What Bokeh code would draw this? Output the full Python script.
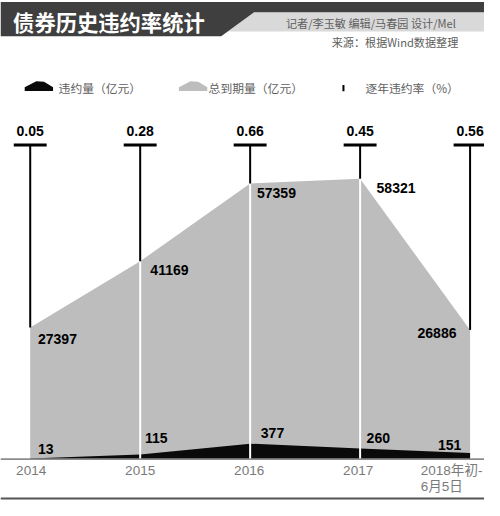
from bokeh.plotting import figure
from bokeh.models import Range1d, ColumnDataSource
from bokeh.embed import file_html
from bokeh.resources import INLINE
from bokeh.core.properties import value

# ---------------- data ----------------
years = ["2014", "2015", "2016", "2017", "2018年初-\n6月5日"]
total_due = [27397, 41169, 57359, 58321, 26886]      # 总到期量（亿元）
default_amt = [13, 115, 377, 260, 151]               # 违约量（亿元）
default_rate = [0.05, 0.28, 0.66, 0.45, 0.56]        # 逐年违约率（%）

title_text = "债券历史违约率统计"
credit_text = "记者/李玉敏  编辑/马春园 设计/Mel"
source_text = "来源：根据Wind数据整理"
legend_labels = ["违约量（亿元）", "总到期量（亿元）", "逐年违约率（%）"]

# ---------------- layout ----------------
# layout is designed on a 500x516 sheet and scaled to the 484x500 canvas
W, H = 484, 500
SX, SY = W / 500, H / 516
X0, STEP = 30.7 * SX, 113.6 * SX     # pixel x of first category, spacing
BASE = 473.3 * SY                    # pixel y of the zero line
K_TOTAL = 0.00496 * SY               # px per 亿元 (total due)
K_DEF = 0.0424 * SY                  # px per 亿元 (defaults, magnified)

NUM_FONT = value("Liberation Sans, Arial, sans-serif")
CJK_FONT = value("Noto Sans CJK SC")
TICK_FONT = value("Liberation Sans, Noto Sans CJK SC, sans-serif")


def fs(px):
    return f"{px * SX:.2f}px"


def ux(rx):
    return (rx * SX - X0) / STEP


def uy(ry):
    return (BASE - ry * SY) / K_TOTAL


n = len(years)
idx = list(range(n))

p = figure(width=W, height=H,
           x_range=Range1d(ux(0), ux(500)), y_range=Range1d(uy(516), uy(0)),
           x_axis_type=None, y_axis_type=None,
           min_border=0, toolbar_location=None, output_backend="svg")
p.extra_y_ranges = {"def": Range1d((BASE - H) / K_DEF, BASE / K_DEF)}
p.outline_line_color = None
p.background_fill_color = "white"
p.border_fill_color = "white"

# ---------------- header ----------------
dark = [(0, 1.5), (500, 1.5), (500, 12), (262, 12), (228, 37), (0, 37)]
light = [(262, 12), (500, 12), (500, 32), (234.8, 32)]
p.patch([ux(a) for a, b in light], [uy(b) for a, b in light],
        fill_color="#d9d9d9", line_color=None)
p.patch([ux(a) for a, b in dark], [uy(b) for a, b in dark],
        fill_color="#3f3f3f", line_color=None)

p.text(x=[ux(13)], y=[uy(21.7)], text=[title_text], text_font=CJK_FONT,
       text_font_size=fs(22), text_font_style="bold", text_color="white",
       text_align="left", text_baseline="middle")
p.text(x=[ux(473), ux(473)], y=[uy(23), uy(43)], text=[credit_text, source_text],
       text_font=CJK_FONT, text_font_size=fs(11.5), text_color="#606060",
       text_align="right", text_baseline="middle")

# ---------------- legend ----------------
icon = [(25, 93.3), (25, 89.5), (37, 83.3), (45, 83.8), (54.3, 89.5), (54.3, 93.3)]
p.patch([ux(a) for a, b in icon], [uy(b) for a, b in icon],
        fill_color="#0a0a0a", line_color=None)
p.patch([ux(a + 159.3) for a, b in icon], [uy(b) for a, b in icon],
        fill_color="#bdbdbd", line_color=None)
p.segment(x0=[ux(354.3)], y0=[uy(87.3)], x1=[ux(354.3)], y1=[uy(93.7)],
          line_color="black", line_width=2)
p.text(x=[ux(60), ux(215), ux(377)], y=[uy(89.3)] * 3, text=legend_labels,
       text_font=CJK_FONT, text_font_size=fs(12.2), text_color="#606060",
       text_align="left", text_baseline="middle")

# ---------------- areas ----------------
p.varea(x=idx, y1=[0] * n, y2=total_due, fill_color="#bdbdbd")
p.varea(x=idx, y1=[0] * n, y2=default_amt, fill_color="#0a0a0a", y_range_name="def")

# white dividers inside the area
p.segment(x0=idx[1:-1], y0=[0] * (n - 2), x1=idx[1:-1], y1=total_due[1:-1],
          line_color="white", line_width=2)

# zero line and bottom rule
p.segment(x0=[ux(0)], y0=[0], x1=[ux(500)], y1=[0], line_color="#8c8c8c", line_width=1.6)
p.segment(x0=[ux(0)], y0=[uy(514)], x1=[ux(500)], y1=[uy(514)],
          line_color="#555555", line_width=2)

# ---------------- default-rate markers ----------------
cap_y = uy(149)
rate_y = uy(134.5)
p.segment(x0=idx, y0=total_due, x1=idx, y1=[cap_y] * n, line_color="black", line_width=2)
p.rect(x=idx, y=[cap_y] * n, width=34 * SX, height=3, width_units="screen",
       height_units="screen", fill_color="black", line_color=None)
p.text(x=idx, y=[rate_y] * n, text=[f"{r:.2f}" for r in default_rate],
       text_font=NUM_FONT, text_font_size=fs(14.5), text_font_style="bold",
       text_color="black", text_align="center", text_baseline="middle")

# ---------------- value labels ----------------
tot_src = ColumnDataSource(dict(
    x=idx, y=total_due, text=[str(v) for v in total_due],
    dx=[d * SX for d in [8, 10.5, 7, 17, -14]],
    dy=[d * SY for d in [12, 9, 9.7, 9.5, 3]],
    align=["left", "left", "left", "left", "right"]))
p.text(x="x", y="y", text="text", x_offset="dx", y_offset="dy", text_align="align",
       source=tot_src, text_font=NUM_FONT, text_font_size=fs(14.5),
       text_font_style="bold", text_color="black", text_baseline="middle")

def_src = ColumnDataSource(dict(
    x=idx, y=default_amt, text=[str(v) for v in default_amt],
    dx=[d * SX for d in [8, 5, 11, 6.7, -9]],
    dy=[d * SY for d in [-10.3, -17, -11, -10.6, -8]],
    align=["left", "left", "left", "left", "right"]))
p.text(x="x", y="y", text="text", x_offset="dx", y_offset="dy", text_align="align",
       source=def_src, y_range_name="def", text_font=NUM_FONT, text_font_size=fs(14.5),
       text_font_style="bold", text_color="black", text_baseline="middle")

# ---------------- category labels ----------------
first = [y.split("\n")[0] for y in years]
tick_src = ColumnDataSource(dict(
    x=idx, y=[uy(485.3)] * n, text=first,
    dx=[d * SX for d in [1, 0, -1, -2, -51]],
    align=["center"] * (n - 1) + ["left"]))
p.text(x="x", y="y", text="text", x_offset="dx", text_align="align", source=tick_src,
       text_font=TICK_FONT, text_font_size=fs(14), text_color="#7a7a7a",
       text_baseline="middle")
second = [(i, y.split("\n")[1]) for i, y in enumerate(years) if "\n" in y]
p.text(x=[i for i, _ in second], y=[uy(502)] * len(second), text=[t for _, t in second],
       x_offset=-51 * SX, text_font=TICK_FONT, text_font_size=fs(14), text_color="#7a7a7a",
       text_align="left", text_baseline="middle")

open("out.html", "w").write(file_html(p, INLINE))
